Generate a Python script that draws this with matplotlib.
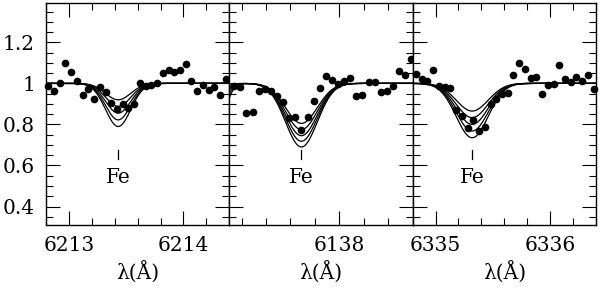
import numpy as np
import matplotlib
matplotlib.use("Agg")
import matplotlib.pyplot as plt
from matplotlib.ticker import MultipleLocator, FuncFormatter

plt.rcParams['font.family'] = ['DejaVu Serif']
plt.rcParams['font.size'] = 14.5

wl_1 = [6212.82, 6212.87, 6212.92, 6212.97, 6213.02, 6213.07, 6213.12, 6213.17,
        6213.22, 6213.27, 6213.32, 6213.37, 6213.42, 6213.47, 6213.52, 6213.57,
        6213.62, 6213.67, 6213.72, 6213.77, 6213.82, 6213.87, 6213.92, 6213.97,
        6214.02, 6214.07, 6214.12, 6214.17, 6214.22, 6214.27, 6214.32, 6214.37]
flux_1 = [0.987, 0.962, 1.000, 1.100, 1.057, 1.013, 0.943, 0.971,
          0.922, 0.980, 0.956, 0.902, 0.873, 0.899, 0.881, 0.899,
          1.000, 0.988, 0.992, 1.000, 1.049, 1.065, 1.054, 1.065,
          1.093, 1.011, 0.964, 0.992, 0.967, 0.980, 0.943, 1.020]

wl_2 = [6137.14, 6137.19, 6137.24, 6137.29, 6137.34, 6137.39, 6137.44, 6137.49,
        6137.54, 6137.59, 6137.64, 6137.69, 6137.74, 6137.79, 6137.84, 6137.89,
        6137.94, 6137.99, 6138.04, 6138.09, 6138.14, 6138.19, 6138.24, 6138.29,
        6138.34, 6138.39, 6138.44, 6138.49, 6138.54, 6138.59]
flux_2 = [0.989, 0.984, 0.854, 0.862, 0.962, 0.972, 0.962, 0.940,
          0.907, 0.829, 0.837, 0.772, 0.837, 0.914, 0.976, 1.036,
          1.016, 0.995, 1.011, 1.028, 0.940, 0.943, 1.005, 1.008,
          0.959, 0.962, 0.987, 1.062, 1.041, 1.119]

wl_3 = [6334.83, 6334.88, 6334.93, 6334.98, 6335.03, 6335.08, 6335.13, 6335.18,
        6335.23, 6335.28, 6335.33, 6335.38, 6335.43, 6335.48, 6335.53, 6335.58,
        6335.63, 6335.68, 6335.73, 6335.78, 6335.83, 6335.88, 6335.93, 6335.98,
        6336.03, 6336.08, 6336.13, 6336.18, 6336.23, 6336.28, 6336.33, 6336.38]
flux_3 = [1.045, 1.021, 1.011, 1.065, 0.987, 0.980, 0.976, 0.870,
          0.842, 0.784, 0.821, 0.767, 0.785, 0.899, 0.922, 0.946,
          0.951, 1.040, 1.101, 1.070, 1.028, 1.032, 0.946, 0.992,
          0.995, 1.089, 1.021, 1.008, 1.032, 1.011, 1.040, 0.971]

# ---- synthetic line parameters: centre, width, depths of the 5 models ----
fe_centres = [6213.43, 6137.69, 6335.32]
fe_widths = [0.11, 0.13, 0.14]
fe_depths = [[0.080, 0.112, 0.145, 0.178, 0.210],
             [0.195, 0.225, 0.255, 0.282, 0.310],
             [0.135, 0.167, 0.200, 0.232, 0.265]]
# blend just left of the middle window
blend_centre = 6136.95
blend_width = 0.08
blend_depths = [0.06, 0.13, 0.20, 0.30, 0.42]

xlims = [(6212.8, 6214.4), (6137.1, 6138.6), (6334.8, 6336.4)]
ylims = (0.31, 1.39)

waves = [wl_1, wl_2, wl_3]
fluxes = [flux_1, flux_2, flux_3]

fig = plt.figure(figsize=(6.0, 2.88), dpi=100)
left0 = 46/600.
w = 183.3/600.
bot = 1 - 225/288.
h = (225 - 3.3)/288.

for k in range(3):
    ax = fig.add_axes([left0 + k*w, bot, w, h])
    x = np.linspace(xlims[k][0] - 0.05, xlims[k][1] + 0.05, 400)
    for m in range(5):
        prof = fe_depths[k][m]*np.exp(-0.5*((x - fe_centres[k])/fe_widths[k])**2)
        if k == 1:
            prof = prof + blend_depths[m]*np.exp(-0.5*((x - blend_centre)/blend_width)**2)
        ax.plot(x, 1 - prof, color='black', lw=0.9)
    ax.plot(waves[k], fluxes[k], 'o', color='black', ms=4.5, mec='black',
            clip_on=False, zorder=3)

    # Fe marker
    ax.plot([fe_centres[k], fe_centres[k]], [0.631, 0.675], color='black', lw=0.9)
    ax.text(fe_centres[k], 0.543, 'Fe', ha='center', va='center', fontsize=14.5)

    ax.set_xlim(*xlims[k])
    ax.set_ylim(*ylims)
    ax.xaxis.set_major_locator(MultipleLocator(1))
    ax.xaxis.set_minor_locator(MultipleLocator(0.2))
    ax.yaxis.set_major_locator(MultipleLocator(0.2))
    ax.yaxis.set_minor_locator(MultipleLocator(0.05))
    ax.xaxis.set_major_formatter(FuncFormatter(lambda v, p: '%d' % round(v)))
    ax.yaxis.set_major_formatter(FuncFormatter(lambda v, p: '%g' % round(v, 2)))
    ax.tick_params(which='both', direction='in', top=True, right=True,
                   width=0.8, color='black')
    ax.tick_params(which='major', length=10, pad=8)
    ax.tick_params(which='minor', length=5)
    if k > 0:
        ax.tick_params(axis='y', labelleft=False)
    for s in ax.spines.values():
        s.set_linewidth(1.0)
    ax.set_xlabel('λ(Å)', labelpad=4)

fig.savefig('out.png', dpi=100)
